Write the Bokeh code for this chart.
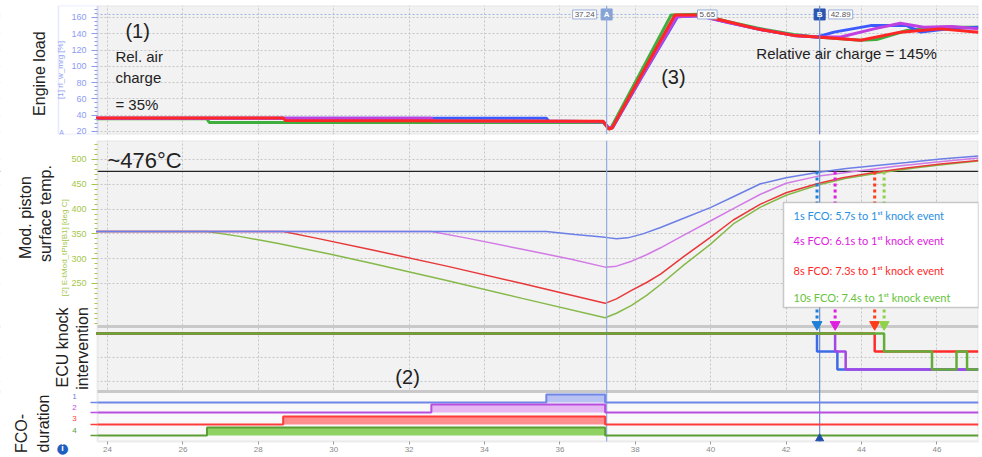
import math
from bokeh.plotting import figure
from bokeh.models import Range1d, FixedTicker, Span, Label, BoxAnnotation, Grid
from bokeh.layouts import column
from bokeh.embed import file_html
from bokeh.resources import INLINE

# ---------------- data ----------------
x_ticks = [24, 26, 28, 30, 32, 34, 36, 38, 40, 42, 44, 46]
load_ticks = [20, 40, 60, 80, 100, 120, 140, 160]
temp_ticks = [250, 300, 350, 400, 450, 500]
knock_grid = [-4, -8]

cursor_a = 37.24
cursor_b = 42.89

# Engine load (relative air charge, %)   order: 1s, 4s, 8s, 10s FCO
load_1s_x = [23.7, 35.64, 35.7, 37.15, 37.3, 37.4, 38.15, 39.12, 39.7, 40.44, 41.23, 42.2, 42.82, 43.27, 44.24, 45.2, 45.57, 46.3, 47.1]
load_1s_y = [36.2, 36.2, 33, 32, 24, 25, 85, 161, 162, 154, 146, 138, 136, 142, 150, 150, 142, 146, 148]
load_4s_x = [23.7, 32.59, 32.65, 37.15, 37.3, 37.39, 38.14, 39.1, 39.7, 40.44, 41.23, 42.2, 42.82, 43.45, 44.33, 45.03, 45.65, 46.4, 47.1]
load_4s_y = [36.4, 36.4, 33, 32, 24, 25, 85, 161, 162, 154, 146, 138, 136, 136, 146, 153, 148, 149, 146]
load_8s_x = [23.7, 28.66, 28.72, 37.15, 37.3, 37.38, 38.12, 39.05, 39.7, 40.44, 41.23, 42.2, 42.82, 43.45, 43.98, 45.03, 46.1, 47.1]
load_8s_y = [36.5, 36.5, 33.5, 32.5, 23, 24, 86, 163, 163, 155, 146, 138, 136, 134, 132, 142, 146, 142]
load_10s_x = [23.7, 26.64, 26.7, 37.15, 37.3, 37.36, 38.1, 38.95, 39.7, 40.44, 41.23, 42.2, 42.82, 43.45, 43.98, 44.4, 45.2, 46.1, 47.1]
load_10s_y = [35.5, 35.5, 31, 31, 23, 25, 89, 163, 164, 155, 147, 139, 136, 134, 132, 133, 144, 148, 148]

# Modelled piston surface temperature (deg C)
temp_1s_x = [23.7, 35.64, 36.4, 37.2, 37.5, 37.8, 38.2, 38.67, 39.3, 39.99, 40.6, 41.32, 42.0, 42.82, 43.6, 44.4, 45.2, 46.1, 47.1]
temp_1s_y = [355, 355, 349, 343, 340, 342, 350, 363, 382, 403, 425, 451, 463, 474, 482, 488, 494, 501, 507]
temp_4s_x = [23.7, 32.59, 33.5, 35.0, 36.3, 37.2, 37.5, 37.9, 38.3, 38.67, 39.3, 39.99, 40.6, 41.32, 42.0, 42.82, 43.6, 44.85, 46.0, 47.1]
temp_4s_y = [355, 355, 342, 319, 299, 283, 285, 295, 308, 322, 348, 376, 401, 430, 452, 466, 474, 486, 495, 503]
temp_8s_x = [23.7, 28.66, 29.5, 31.0, 33.0, 35.0, 37.2, 37.5, 37.9, 38.3, 38.67, 39.3, 39.99, 40.6, 41.32, 42.0, 42.82, 43.5, 44.33, 45.2, 46.1, 47.1]
temp_8s_y = [355, 355, 342, 318, 285, 250, 210, 219, 236, 252, 269, 305, 343, 378, 410, 433, 451, 463, 474, 483, 491, 498]
temp_10s_x = [23.7, 26.64, 27.5, 28.5, 29.92, 31.0, 33.0, 35.0, 37.2, 37.5, 37.9, 38.3, 38.67, 39.3, 39.99, 40.6, 41.32, 42.0, 42.82, 43.6, 44.55, 45.4, 46.2, 47.1]
temp_10s_y = [355, 355, 345, 331, 309, 291, 256, 220, 181, 190, 206, 226, 248, 288, 329, 370, 404, 428, 448, 462, 474, 483, 490, 497]
temp_threshold = 476

# ECU knock intervention (step signal)
knock_1s_x = [23.7, 42.82, 43.36, 47.1]
knock_1s_y = [0, -3, -6, -6]
knock_4s_x = [23.7, 43.3, 43.58, 47.1]
knock_4s_y = [0, -3, -6, -6]
knock_8s_x = [23.7, 44.35, 47.1]
knock_8s_y = [0, -3, -3]
knock_10s_x = [23.7, 44.6, 45.87, 46.52, 46.8, 47.1]
knock_10s_y = [0, -3, -6, -3, -6, -6]
first_knock = [42.82, 43.3, 44.35, 44.6]

# Fuel cut-off (FCO) duration signals
fco_channels = ["1", "2", "3", "4"]
fco_start = [35.64, 32.59, 28.66, 26.64]
fco_end = [37.2, 37.2, 37.2, 37.2]

legend_texts = [
    "1s FCO: 5.7s to 1\u02e2\u1d57 knock event",
    "4s FCO: 6.1s to 1\u02e2\u1d57 knock event",
    "8s FCO: 7.3s to 1\u02e2\u1d57 knock event",
    "10s FCO: 7.4s to 1\u02e2\u1d57 knock event",
]

# ---------------- style ----------------
C_LOAD = ["#3b5bff", "#c040e0", "#ff2626", "#3fae3f"]
C_TEMP = ["#6c7fe6", "#d27ae6", "#e8383a", "#86b94a"]
C_KNOCK = ["#3d6be8", "#a346e6", "#ff2b2b", "#62ad38"]
C_FCO_LINE = ["#6f86e6", "#b84fe0", "#ff3b3b", "#5c9e34"]
C_FCO_FILL = ["#b7c1f2", "#e6b7f2", "#ff8f8f", "#8fd162"]
C_EVENT = ["#1f7fd6", "#e01ee0", "#ff3b1a", "#8fd14a"]
C_LEGEND = ["#2a90e0", "#e020e0", "#ff2a2a", "#66c43a"]
FCO_BASE = [39, 29, 17, 6]
FCO_H = 8
FONT = "Liberation Sans"
GRID_C = "#c6c6c6"
BG = "#f2f2f2"
BLUE_AX = "#8d9cf3"
GREEN_AX = "#a5c64a"
CUR_A_C = "#93abdc"
CUR_B_C = "#6a8fd0"


def px2x(px):
    # horizontal page pixel -> time axis value (used only to place texts/boxes)
    return 24 + (px - 107) / 37.7


XLO, XHI, XL = px2x(0), px2x(978), px2x(97)
XR = Range1d(XLO, XHI)
txt = dict(text_font=FONT, text_color="#222222", text_baseline="middle")
rot = dict(angle=math.pi / 2, text_align="center")

# ---------------- panel 1: engine load ----------------
LY0, LY1 = 16.3, 174.7
pA = figure(width=982, height=137, x_range=XR, y_range=Range1d(LY0, LY1),
            output_backend="svg", toolbar_location=None, x_axis_location=None,
            min_border_left=0, min_border_right=4, min_border_top=5, min_border_bottom=3,
            background_fill_color="white", outline_line_color=None)
pA.add_layout(BoxAnnotation(left=XL, right=XHI, bottom=LY0, top=LY1, fill_color=BG, fill_alpha=1,
                            line_color=None, level="image"))
ya = pA.yaxis[0]
ya.fixed_location = XL
ya.ticker = FixedTicker(ticks=load_ticks, minor_ticks=list(range(20, 175, 5)))
ya.axis_label = "[1] rl_w_mrg [%]"
ya.axis_label_text_font_size = "8px"
ya.axis_label_text_font_style = "normal"
ya.axis_label_text_color = BLUE_AX
ya.axis_label_standoff = 3
ya.major_label_text_font_size = "9px"
ya.major_label_text_color = BLUE_AX
ya.major_label_text_font = FONT
ya.major_tick_out = 6
ya.major_tick_in = 0
ya.minor_tick_out = 3
ya.minor_tick_in = 0
ya.major_tick_line_color = BLUE_AX
ya.minor_tick_line_color = BLUE_AX
ya.axis_line_color = None
pA.xgrid.ticker = FixedTicker(ticks=x_ticks)
for g in (pA.xgrid, pA.ygrid):
    g.grid_line_color = GRID_C
    g.grid_line_dash = "2 2"

cur_y = 163.7
pA.add_layout(Span(location=cur_y, dimension="width", line_color="#9db3e3", line_dash="2 2",
                   line_width=1, level="underlay"))
pA.add_layout(BoxAnnotation(left=XLO, right=XL, bottom=LY0, top=LY1, fill_color="white", fill_alpha=1,
                            line_color=None, level="underlay"))
pA.add_layout(BoxAnnotation(left=XL, right=XHI, bottom=LY0, top=LY1, fill_color=None,
                            line_color="#c4c4c4", line_width=2, level="underlay"))
pA.add_layout(BoxAnnotation(left=px2x(58), right=XL, bottom=LY0, top=LY1, fill_color=None,
                            line_color="#aab7f5", line_width=1.5, level="underlay"))

loads = [(load_10s_x, load_10s_y, C_LOAD[3]), (load_1s_x, load_1s_y, C_LOAD[0]),
         (load_4s_x, load_4s_y, C_LOAD[1]), (load_8s_x, load_8s_y, C_LOAD[2])]
for lx, ly, c in loads:
    pA.line(lx, ly, line_color=c, line_width=3)

pA.add_layout(Span(location=cursor_a, dimension="height", line_color=CUR_A_C, line_width=1.2))
pA.add_layout(Span(location=cursor_b, dimension="height", line_color=CUR_B_C, line_width=1.2))
pA.scatter([cursor_a], [cur_y], marker="square", size=11, fill_color="#86a3d6", line_color="#86a3d6")
pA.scatter([cursor_b], [cur_y], marker="square", size=11, fill_color="#2a56b0", line_color="#2a56b0")
pA.add_layout(Label(x=cursor_a, y=cur_y, text="A", text_align="center", text_baseline="middle",
                    text_font=FONT, text_font_size="8px", text_font_style="bold", text_color="white"))
pA.add_layout(Label(x=cursor_b, y=cur_y, text="B", text_align="center", text_baseline="middle",
                    text_font=FONT, text_font_size="8px", text_font_style="bold", text_color="white"))
box_kw = dict(text_font=FONT, text_font_size="8px", text_color="#555555", text_baseline="middle",
              background_fill_color="white", border_line_color="#9ab0d8", padding=2)
pA.add_layout(Label(x=cursor_a, y=cur_y, x_offset=-10, text=f"{cursor_a:.2f}", text_align="right", **box_kw))
pA.add_layout(Label(x=39.65, y=cur_y, text=f"{cursor_b - cursor_a:.2f}", text_align="left", **box_kw))
pA.add_layout(Label(x=cursor_b, y=cur_y, x_offset=9, text=f"{cursor_b:.2f}", text_align="left", **box_kw))

pA.add_layout(Label(x=24.8, y=144, text="(1)", text_align="center", text_font_size="20px", **txt))
pA.add_layout(Label(x=24.21, y=112.1, text="Rel. air", text_align="left", text_font_size="15px", **txt))
pA.add_layout(Label(x=24.21, y=86.3, text="charge", text_align="left", text_font_size="15px", **txt))
pA.add_layout(Label(x=24.21, y=53.1, text="= 35%", text_align="left", text_font_size="15px", **txt))
pA.add_layout(Label(x=39.01, y=86.3, text="(3)", text_align="center", text_font_size="20px", **txt))
pA.add_layout(Label(x=41.21, y=115.8, text="Relative air charge = 145%", text_align="left",
                    text_font_size="15px", **txt))

pA.add_layout(Label(x=px2x(39), y=91, text="Engine load", text_font_size="16px", **rot, **txt))
pA.add_layout(Label(x=px2x(61), y=19, text="A", text_align="center", text_font=FONT,
                    text_font_size="7px", text_color=BLUE_AX, text_baseline="middle"))

# ---------------- panels 2-4 (frame reaches the canvas bottom; x axis is pinned) ----------------
TY0, TY1 = -68.55, 538.3      # panel area bottom/top in temperature units
TYB = -100.8                  # canvas bottom
pB = figure(width=982, height=320, x_range=XR, y_range=Range1d(TYB, TY1),
            output_backend="svg", toolbar_location=None,
            min_border_left=0, min_border_right=4, min_border_top=3, min_border_bottom=0,
            background_fill_color="white", outline_line_color=None)
pB.extra_y_ranges = {"knock": Range1d(-20.67, 32.17), "fco": Range1d(-16, 301)}
pB.add_layout(BoxAnnotation(left=XL, right=XHI, bottom=TY0, top=TY1, fill_color=BG, fill_alpha=1,
                            line_color=None, level="image"))

yb = pB.yaxis[0]
yb.fixed_location = XL
yb.ticker = FixedTicker(ticks=temp_ticks, minor_ticks=list(range(170, 540, 10)))
yb.major_label_text_font_size = "9px"
yb.major_label_text_color = GREEN_AX
yb.major_label_text_font = FONT
yb.major_tick_out = 6
yb.major_tick_in = 0
yb.minor_tick_out = 3
yb.minor_tick_in = 0
yb.major_tick_line_color = GREEN_AX
yb.minor_tick_line_color = GREEN_AX
yb.axis_line_color = None

xb = pB.xaxis[0]
xb.fixed_location = TY0
xb.ticker = FixedTicker(ticks=x_ticks)
xb.major_label_text_font_size = "8px"
xb.major_label_text_color = "#8a8a8a"
xb.major_label_text_font = FONT
xb.major_label_standoff = 2
xb.major_tick_out = 3
xb.major_tick_in = 0
xb.minor_tick_line_color = None
xb.axis_line_color = None
xb.major_tick_line_color = "#9a9a9a"

for g in (pB.xgrid, pB.ygrid):
    g.grid_line_color = GRID_C
    g.grid_line_dash = "2 2"
pB.add_layout(Grid(dimension=1, ticker=FixedTicker(ticks=knock_grid), y_range_name="knock",
                   grid_line_color=GRID_C, grid_line_dash="2 2"))
pB.add_layout(BoxAnnotation(bottom=0, top=49, left=XL, right=XHI, y_range_name="fco", fill_color="#f9f9f9",
                            fill_alpha=1, line_color=None, level="underlay"))
pB.add_layout(Span(location=115, dimension="width", y_range_name="fco", line_color="#c9c9c9",
                   line_width=3, level="underlay"))
pB.add_layout(Span(location=50, dimension="width", y_range_name="fco", line_color="#c9c9c9",
                   line_width=3, level="underlay"))
pB.add_layout(Span(location=temp_threshold, dimension="width", line_color="#222222", line_width=1.2,
                   level="underlay"))
pB.add_layout(BoxAnnotation(left=XLO, right=XL, bottom=TYB, top=TY1, fill_color="white", fill_alpha=1,
                            line_color=None, level="underlay"))
pB.add_layout(BoxAnnotation(left=XLO, right=XHI, bottom=TYB, top=TY0, fill_color="white", fill_alpha=1,
                            line_color=None, level="underlay"))
pB.add_layout(BoxAnnotation(left=XL, right=XHI, bottom=TY0, top=TY1, fill_color=None,
                            line_color="#c4c4c4", line_width=2, level="underlay"))

# temperatures
temps = [(temp_10s_x, temp_10s_y), (temp_8s_x, temp_8s_y), (temp_4s_x, temp_4s_y), (temp_1s_x, temp_1s_y)]
for (tx, ty), c in zip(temps, C_TEMP[::-1]):
    pB.line(tx, ty, line_color=c, line_width=1.5)

# cursor lines (limited to the panel area)
pB.segment(x0=[cursor_a], y0=[TY0], x1=[cursor_a], y1=[TY1], line_color=CUR_A_C, line_width=1.2)
pB.segment(x0=[cursor_b], y0=[TY0], x1=[cursor_b], y1=[TY1], line_color=CUR_B_C, line_width=1.2)

# first knock event markers
for ev, c in zip(first_knock, C_EVENT):
    pB.segment(x0=[ev], y0=[temp_threshold], x1=[ev], y1=[179], line_color=c, line_width=3, line_dash="3 3")
    pB.scatter([ev], [1.5], y_range_name="knock", marker="inverted_triangle", size=10, fill_color=c, line_color=c)

# knock intervention
knocks = [(knock_1s_x, knock_1s_y), (knock_4s_x, knock_4s_y), (knock_8s_x, knock_8s_y), (knock_10s_x, knock_10s_y)]
for (kx, ky), c in zip(knocks, C_KNOCK):
    pB.step(kx, ky, mode="after", y_range_name="knock", line_color=c, line_width=2.5)

# FCO signals
for i in range(4):
    b = FCO_BASE[i]
    pB.quad(left=[fco_start[i]], right=[fco_end[i]], bottom=[b], top=[b + FCO_H], y_range_name="fco",
            fill_color=C_FCO_FILL[i], line_color=None)
    pB.step([XL, fco_start[i], fco_end[i], XHI], [b, b + FCO_H, b, b], mode="after",
            y_range_name="fco", line_color=C_FCO_LINE[i], line_width=2)
    pB.segment(x0=[px2x(90)], x1=[XL], y0=[b], y1=[b], y_range_name="fco", line_color=C_FCO_LINE[i], line_width=1.5)

pB.scatter([cursor_b], [3], y_range_name="fco", marker="triangle", size=8, fill_color="#1f4fa8", line_color="#1f4fa8")

# legend box
pB.add_layout(BoxAnnotation(left=px2x(783), right=XHI, bottom=201.6, top=413.3, fill_color="white", fill_alpha=1,
                            line_color="#555555", line_width=1.5))
for t, yy, c in zip(legend_texts, [386.7, 336, 277, 221], C_LEGEND):
    pB.add_layout(Label(x=px2x(793), y=yy, text=t, text_align="left", text_baseline="middle",
                        text_font="Lato", text_font_size="11px", text_color=c))

pB.add_layout(Label(x=24.0, y=498, text="~476\u00b0C", text_align="left", text_font_size="22px", **txt))
pB.add_layout(Label(x=31.96, y=65, y_range_name="fco", text="(2)", text_align="center", text_font_size="20px", **txt))

# left side titles
pB.add_layout(Label(x=px2x(25), y=383, text="Mod. piston", text_font_size="16px", **rot, **txt))
pB.add_layout(Label(x=px2x(44.5), y=391, text="surface temp.", text_font_size="16px", **rot, **txt))
pB.add_layout(Label(x=px2x(64), y=322, text="[2] E-tMod_tPis[B1] [deg C]", text_font_size="8px", text_font=FONT,
                    text_color=GREEN_AX, text_baseline="middle", **rot))
pB.add_layout(Label(x=px2x(62), y=-2.33, y_range_name="knock", text="ECU knock", text_font_size="16px", **rot, **txt))
pB.add_layout(Label(x=px2x(82), y=-2.5, y_range_name="knock", text="intervention", text_font_size="16px", **rot, **txt))
pB.add_layout(Label(x=px2x(21), y=8, y_range_name="fco", text="FCO-", text_font_size="16px", **rot, **txt))
pB.add_layout(Label(x=px2x(43), y=18, y_range_name="fco", text="duration", text_font_size="16px", **rot, **txt))
for ch, yy, c in zip(fco_channels, [45, 34, 23, 11], C_FCO_LINE):
    pB.add_layout(Label(x=px2x(74), y=yy, y_range_name="fco", text=ch, text_align="center",
                        text_baseline="middle", text_font=FONT, text_font_size="8px", text_color=c))
pB.add_layout(Label(x=px2x(62), y=-6, y_range_name="fco", text="\u25cf", text_align="center",
                    text_baseline="middle", text_font="DejaVu Sans", text_font_size="14px", text_color="#1f5fbf"))
pB.add_layout(Label(x=px2x(62), y=-6, y_range_name="fco", text="i", text_align="center",
                    text_baseline="middle", text_font=FONT, text_font_size="9px", text_font_style="bold",
                    text_color="white"))

layout = column(pA, pB, spacing=0)
open("out.html", "w").write(file_html(layout, INLINE))
